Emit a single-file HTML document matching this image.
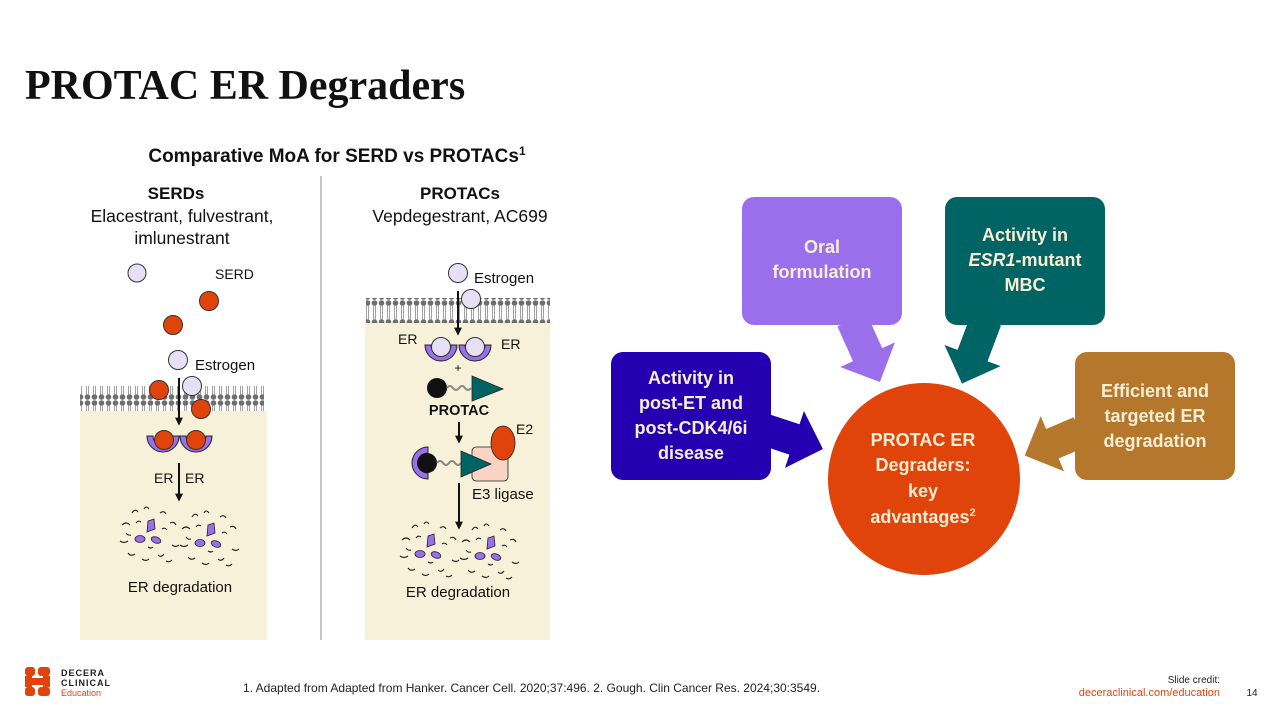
<!DOCTYPE html>
<html><head><meta charset="utf-8"><style>
html,body{margin:0;padding:0;background:#fff;}
svg{display:block;}
text{font-family:"Liberation Sans",sans-serif;}
</style></head><body>
<svg width="1280" height="720" viewBox="0 0 1280 720" xmlns="http://www.w3.org/2000/svg">
<defs>
<pattern id="mem" x="0" y="0" width="7" height="25" patternUnits="userSpaceOnUse">
<circle cx="3.5" cy="3" r="2.8" fill="#6e6e6e"/>
<circle cx="3.5" cy="22" r="2.8" fill="#6e6e6e"/>
<line x1="2.5" y1="5" x2="2.5" y2="20" stroke="#8a8a8a" stroke-width="0.8"/>
<line x1="4.5" y1="5" x2="4.5" y2="20" stroke="#8a8a8a" stroke-width="0.8"/>
</pattern>
<marker id="ah" viewBox="0 0 10 10" refX="8" refY="5" markerWidth="4" markerHeight="4" orient="auto"><path d="M0,0L10,5L0,10z" fill="#111"/></marker>
<g id="deb">
<path d="M-28,-10 q4,-4 8,0 M-18,-22 q3,-5 6,-1 M-6,-26 q2,-4 5,0 M10,-22 q4,-3 6,1 M20,-12 q4,-2 6,2 M-30,6 q4,3 8,0 M-22,18 q3,4 7,1 M-8,24 q4,3 7,0 M8,20 q3,3 6,-1 M22,10 q4,3 7,0 M-14,-12 q2,-3 5,-1 M12,-6 q3,-2 5,1 M-2,12 q3,2 5,0 M16,26 q3,2 6,-1 M-24,-2 q2,3 5,2" fill="none" stroke="#222" stroke-width="1.1"/>
<path d="M-2,-14 l6,-2 l1,10 l-8,3z" fill="#9b6fec" stroke="#222" stroke-width="0.8"/>
<ellipse cx="-10" cy="4" rx="5" ry="3.5" fill="#9b6fec" stroke="#222" stroke-width="0.8"/>
<ellipse cx="6" cy="5" rx="5" ry="3" transform="rotate(20 6 5)" fill="#9b6fec" stroke="#222" stroke-width="0.8"/>
</g>
<g id="cup"><path d="M-16,0 A16,16 0 0 0 16,0 L10,0 A10,10 0 0 1 -10,0 Z" fill="#9b6fec" stroke="#222" stroke-width="1"/></g>
</defs>

<text x="25" y="99" font-weight="bold" font-size="42" fill="#111" style="font-family:'Liberation Serif',serif">PROTAC ER Degraders</text>
<text x="337" y="162" text-anchor="middle" font-weight="bold" font-size="19" fill="#111">Comparative MoA for SERD vs PROTACs<tspan font-size="12" dy="-7">1</tspan></text>
<line x1="321" y1="176" x2="321" y2="640" stroke="#888" stroke-width="1"/>

<text x="176" y="199" text-anchor="middle" font-weight="bold" font-size="17" fill="#111">SERDs</text>
<text x="182" y="222" text-anchor="middle" font-size="17.5" fill="#111">Elacestrant, fulvestrant,</text>
<text x="182" y="244" text-anchor="middle" font-size="17.5" fill="#111">imlunestrant</text>
<text x="460" y="199" text-anchor="middle" font-weight="bold" font-size="17" fill="#111">PROTACs</text>
<text x="460" y="222" text-anchor="middle" font-size="17.5" fill="#111">Vepdegestrant, AC699</text>

<!-- left panel -->
<rect x="80" y="411" width="187" height="229" fill="#f8f1d9"/>
<rect x="80" y="386" width="184" height="25" fill="url(#mem)"/>
<circle cx="137" cy="273" r="9" fill="#e6e0f5" stroke="#333" stroke-width="1"/>
<text x="215" y="279" font-size="14" fill="#111">SERD</text>
<circle cx="209" cy="301" r="9.5" fill="#e0440a" stroke="#333" stroke-width="1"/>
<circle cx="173" cy="325" r="9.5" fill="#e0440a" stroke="#333" stroke-width="1"/>
<circle cx="178" cy="360" r="9.5" fill="#e6e0f5" stroke="#333" stroke-width="1"/>
<text x="195" y="370" font-size="15" fill="#111">Estrogen</text>
<line x1="179" y1="378" x2="179" y2="424" stroke="#111" stroke-width="2" marker-end="url(#ah)"/>
<circle cx="159" cy="390" r="9.5" fill="#e0440a" stroke="#333" stroke-width="1"/>
<circle cx="192" cy="386" r="9.5" fill="#e6e0f5" stroke="#333" stroke-width="1"/>
<circle cx="201" cy="409" r="9.5" fill="#e0440a" stroke="#333" stroke-width="1"/>
<use href="#cup" x="163" y="436"/><use href="#cup" x="196" y="436"/>
<circle cx="164" cy="440" r="9.5" fill="#e0440a" stroke="#333" stroke-width="1"/>
<circle cx="196" cy="440" r="9.5" fill="#e0440a" stroke="#333" stroke-width="1"/>
<text x="154" y="483" font-size="14" fill="#111">ER</text>
<text x="185" y="483" font-size="14" fill="#111">ER</text>
<line x1="179" y1="463" x2="179" y2="500" stroke="#111" stroke-width="2" marker-end="url(#ah)"/>
<use href="#deb" x="150" y="535"/><use href="#deb" x="210" y="539"/>
<text x="180" y="592" text-anchor="middle" font-size="15" fill="#111">ER degradation</text>

<!-- right panel -->
<rect x="365" y="322" width="185" height="318" fill="#f8f1d9"/>
<rect x="366" y="298" width="184" height="25" fill="url(#mem)"/>
<circle cx="458" cy="273" r="9.5" fill="#e6e0f5" stroke="#333" stroke-width="1"/>
<text x="474" y="283" font-size="15" fill="#111">Estrogen</text>
<line x1="458" y1="291" x2="458" y2="334" stroke="#111" stroke-width="2" marker-end="url(#ah)"/>
<circle cx="471" cy="299" r="9.5" fill="#e6e0f5" stroke="#333" stroke-width="1"/>
<text x="398" y="344" font-size="14" fill="#111">ER</text>
<text x="501" y="349" font-size="14" fill="#111">ER</text>
<use href="#cup" x="441" y="345"/><use href="#cup" x="475" y="345"/>
<circle cx="441" cy="347" r="9.5" fill="#e6e0f5" stroke="#333" stroke-width="1"/>
<circle cx="475" cy="347" r="9.5" fill="#e6e0f5" stroke="#333" stroke-width="1"/>
<text x="458" y="372" text-anchor="middle" font-size="12" fill="#111">+</text>
<circle cx="437" cy="388" r="10" fill="#111"/>
<path d="M447,388 q3,-4 6,0 t6,0 t6,0 t6,0" fill="none" stroke="#888" stroke-width="2"/>
<path d="M472,376 L503,389 L472,401 Z" fill="#006464" stroke="#222" stroke-width="0.8"/>
<text x="459" y="415" text-anchor="middle" font-weight="bold" font-size="14.5" fill="#111">PROTAC</text>
<line x1="459" y1="422" x2="459" y2="442" stroke="#111" stroke-width="2" marker-end="url(#ah)"/>
<rect x="472" y="447" width="36" height="34" rx="4" fill="#f9d3c4" stroke="#222" stroke-width="0.8"/>
<ellipse cx="503" cy="443" rx="12" ry="17" fill="#e0440a" stroke="#222" stroke-width="0.8"/>
<text x="516" y="434" font-size="14" fill="#111">E2</text>
<path d="M428,447 A16,16 0 0 0 428,479 L428,473 A10,10 0 0 1 428,453 Z" fill="#9b6fec" stroke="#222" stroke-width="1"/>
<circle cx="427" cy="463" r="10" fill="#111"/>
<path d="M437,463 q3,-4 6,0 t6,0 t6,0 t6,0" fill="none" stroke="#888" stroke-width="2"/>
<path d="M461,451 L491,464 L461,477 Z" fill="#006464" stroke="#222" stroke-width="0.8"/>
<text x="472" y="499" font-size="15" fill="#111">E3 ligase</text>
<line x1="459" y1="483" x2="459" y2="528" stroke="#111" stroke-width="2" marker-end="url(#ah)"/>
<use href="#deb" x="430" y="550"/><use href="#deb" x="490" y="552"/>
<text x="458" y="597" text-anchor="middle" font-size="15" fill="#111">ER degradation</text>

<!-- right diagram arrows -->
<g transform="translate(852,320) rotate(65.8)"><polygon points="0,-16 38,-16 38,-30 68,0 38,30 38,16 0,16" fill="#9b6fec"/></g>
<g transform="translate(986,320) rotate(110.7)"><polygon points="0,-16 38,-16 38,-30 68,0 38,30 38,16 0,16" fill="#006464"/></g>
<g transform="translate(766,430) rotate(18.4)"><polygon points="0,-16 30,-16 30,-30 60,0 30,30 30,16 0,16" fill="#2400b0"/></g>
<g transform="translate(1080,432) rotate(157)"><polygon points="0,-16 30,-16 30,-30 60,0 30,30 30,16 0,16" fill="#b5772c"/></g>

<rect x="742" y="197" width="160" height="128" rx="12" fill="#9b6fec"/>
<rect x="945" y="197" width="160" height="128" rx="12" fill="#006464"/>
<rect x="611" y="352" width="160" height="128" rx="12" fill="#2400b0"/>
<rect x="1075" y="352" width="160" height="128" rx="12" fill="#b5772c"/>
<ellipse cx="924" cy="479" rx="96" ry="96" fill="#e0440a"/>

<g font-weight="bold" font-size="18" fill="#f7eed3" text-anchor="middle">
<text x="822" y="253">Oral</text>
<text x="822" y="278">formulation</text>
<text x="1025" y="241">Activity in</text>
<text x="1025" y="266"><tspan font-style="italic">ESR1</tspan>-mutant</text>
<text x="1025" y="291">MBC</text>
<text x="691" y="384">Activity in</text>
<text x="691" y="409">post-ET and</text>
<text x="691" y="434">post-CDK4/6i</text>
<text x="691" y="459">disease</text>
<text x="1155" y="397">Efficient and</text>
<text x="1155" y="422">targeted ER</text>
<text x="1155" y="447">degradation</text>
<text x="923" y="446">PROTAC ER</text>
<text x="923" y="471">Degraders:</text>
<text x="923" y="497">key</text>
<text x="923" y="523">advantages<tspan font-size="11" dy="-7">2</tspan></text>
</g>

<!-- footer -->
<g fill="#e0440a">
<rect x="25" y="667" width="10" height="9" rx="3"/><rect x="38" y="667" width="12" height="9" rx="3"/>
<rect x="25" y="676" width="7" height="11"/><rect x="43" y="676" width="7" height="11"/>
<rect x="25" y="687" width="10" height="9" rx="3"/><rect x="38" y="687" width="12" height="9" rx="3"/>
<rect x="32" y="678" width="11" height="7"/>
</g>
<text x="61" y="676" font-weight="bold" font-size="9" fill="#222" letter-spacing="1">DECERA</text>
<text x="61" y="686" font-weight="bold" font-size="9" fill="#222" letter-spacing="1">CLINICAL</text>
<text x="61" y="696" font-size="9" fill="#e0440a">Education</text>
<text x="243" y="692" font-size="12" fill="#222">1. Adapted from Adapted from Hanker. Cancer Cell. 2020;37:496. 2. Gough. Clin Cancer Res. 2024;30:3549.</text>
<text x="1220" y="683" text-anchor="end" font-size="10" fill="#222">Slide credit:</text>
<text x="1220" y="696" text-anchor="end" font-size="11" fill="#e0440a">deceraclinical.com/education</text>
<text x="1252" y="696" text-anchor="middle" font-size="10" fill="#222">14</text>
</svg>
</body></html>
